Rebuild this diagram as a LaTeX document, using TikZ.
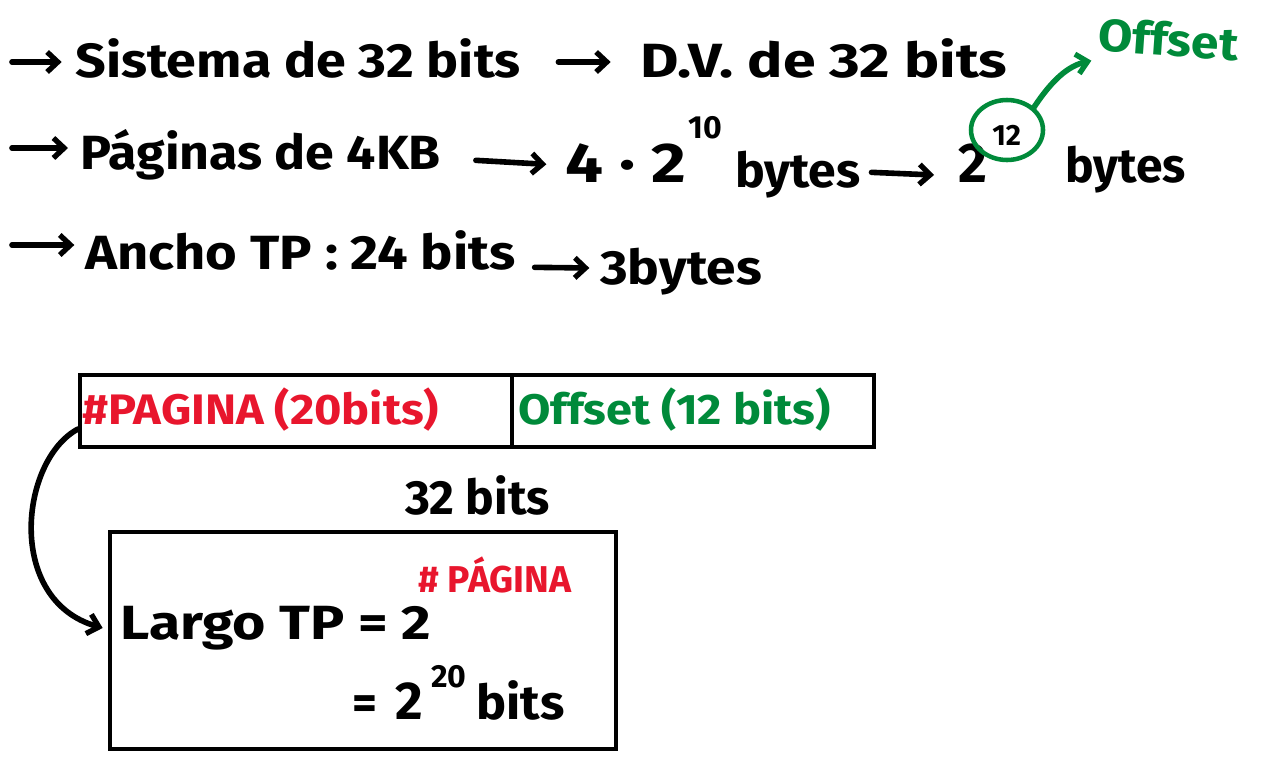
\documentclass[tikz,border=0pt]{standalone}
\usepackage{fontspec}
\usepackage{graphicx}
\setmainfont{Fira Sans}
\usetikzlibrary{arrows.meta,shapes.geometric}
\definecolor{myred}{RGB}{232,22,45}
\definecolor{mygreen}{RGB}{0,138,58}
\newcommand{\sx}[2]{\scalebox{#1}[1]{#2}}
\begin{document}
\begin{tikzpicture}[x=0.75pt,y=-0.75pt,
 txt/.style={inner sep=0pt, anchor=west, font=\bfseries\fontsize{36}{42}\selectfont},
 big/.style={inner sep=0pt, anchor=west, font=\bfseries\fontsize{42}{48}\selectfont},
 sup/.style={inner sep=0pt, anchor=west, font=\bfseries\fontsize{24}{28}\selectfont},
 arr/.style={line width=4.2pt, line cap=round, -{Straight Barb[length=8pt,width=15pt,line width=4pt]}},
 cell/.style={draw, line width=3pt, inner sep=0pt, anchor=north west},
 boxtxt/.style={inner sep=0pt, anchor=west, font=\bfseries\fontsize{32}{38}\selectfont},
 red/.style={text=myred},
 grn/.style={text=mygreen}]
\useasboundingbox (0,0) rectangle (1264,764);
% line 1
\coordinate (s1) at (12,62);
\node[txt] (t1) at (75,58) {\sx{1.12}{Sistema de 32 bits}};
\node[txt] (t2) at (640,58) {\sx{1.23}{D.V. de 32 bits}};
\draw[arr] (s1) -- ([xshift=-10pt]t1.west |- s1);
\draw[arr] ([xshift=28pt,yshift=-3pt]t1.east) -- ([xshift=-22pt,yshift=-3pt]t2.west);
% line 2
\coordinate (s2) at (12,148);
\node[txt] (p1) at (80,155) {\sx{1.08}{Páginas de 4KB}};
\node[big] (p2) at (565,163) {\sx{1.2}{4 · 2}};
\node[sup] (p3) at (688,128) {10};
\node[txt] (p4) at (735,175) {\sx{1.04}{bytes}};
\node[big] (p5) at (958,163) {2};
\node[sup, font=\bfseries\fontsize{22}{26}\selectfont] (p6) at (992,135) {12};
\node[txt] (p7) at (1065,170) {bytes};
\draw[arr] (s2) -- ([xshift=-9pt]p1.west |- s2);
\draw[arr] ([xshift=26pt,yshift=-4pt]p1.east) -- ([xshift=-14pt,yshift=-1pt]p2.west);
\draw[arr] ([xshift=8pt,yshift=2pt]p4.east) -- ([xshift=-18pt]p5.west |- p4.east);
\node[draw=mygreen, line width=3.4pt, ellipse, minimum width=54pt, minimum height=45pt, inner sep=0pt] (c12) at (1007,130) {};
\node[txt, grn, rotate=-4, font=\bfseries\fontsize{34}{40}\selectfont] (off1) at (1098,34) {\sx{1.1}{Offset}};
\draw[arr, draw=mygreen] (c12.north east) .. controls (1052,80) and (1068,66) .. ([xshift=-5pt,yshift=-20pt]off1.west);
% line 3
\coordinate (s3) at (12,245);
\node[txt] (l1) at (85,250) {\sx{1.13}{Ancho TP : 24 bits}};
\node[txt] (l2) at (600,272) {\sx{1.11}{3bytes}};
\draw[arr] (s3) -- ([xshift=-8pt]l1.west |- s3);
\draw[arr] ([xshift=14pt,yshift=-13pt]l1.east) -- ([xshift=-8pt,yshift=3pt]l2.west);
% box 1
\node[cell, minimum width=324pt, minimum height=54pt] (pag) at (78,373) {};
\node[cell, minimum width=271.5pt, minimum height=54pt] (off) at (510,373) {};
\node[boxtxt, red] (pt) at (82,410) {\sx{1.1}{\#PAGINA (20bits)}};
\node[boxtxt, grn] (ot) at (518,410) {\sx{1.1}{Offset (12 bits)}};
\node[txt] (b32) at (405,495) {32 bits};
% box 2
\node[cell, minimum width=379.5pt, minimum height=162.75pt] (box2) at (108,530) {};
\node[txt] (lg) at (120,628) {\sx{1.19}{Largo TP = 2}};
\node[sup, red, font=\bfseries\fontsize{28}{32}\selectfont] (pg) at (418,575) {\# PÁGINA};
\node[txt] (eq2) at (352,701) {=\hspace{14pt}{\fontsize{40}{46}\selectfont 2}};
\node[sup] (e20) at (431,677) {20};
\node[txt] (bt) at (476,700) {\sx{1.05}{bits}};
\draw[arr] ([yshift=15pt]pag.south west) .. controls (20,460) and (5,600) .. ([xshift=-4pt]box2.west |- lg.west);
\end{tikzpicture}
\end{document}
